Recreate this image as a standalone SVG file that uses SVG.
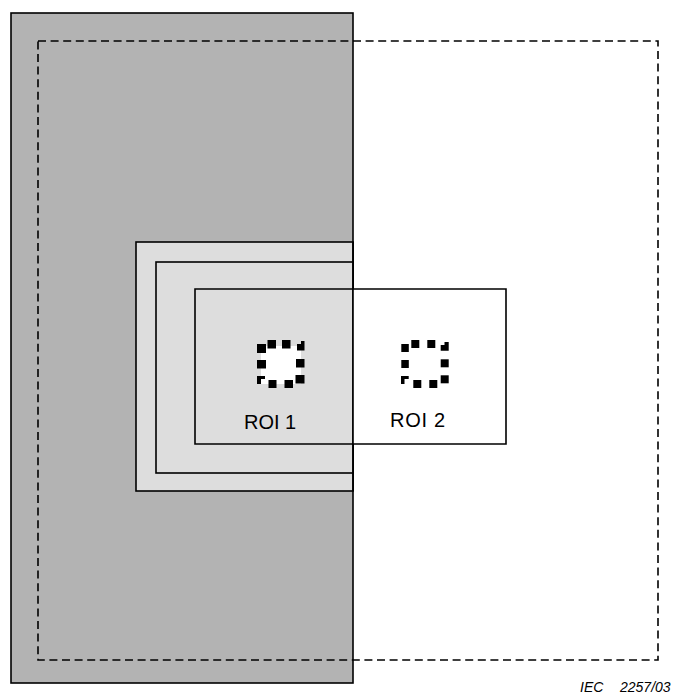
<svg xmlns="http://www.w3.org/2000/svg" width="679" height="697" viewBox="0 0 679 697">
<style>
.box{stroke:#000;stroke-width:1.6}
.dot{fill:#000}
.lbl{font-family:"Liberation Sans",Arial,sans-serif;font-size:20px;fill:#000}
.ref{font-family:"Liberation Sans",Arial,sans-serif;font-size:14px;font-style:italic;fill:#000}
</style>
<rect width="679" height="697" fill="#fff"/>
<g id="image">
<rect class="box" x="11" y="13" width="342" height="670" fill="#b3b3b3"/>
</g>
<g id="tile-region">
<rect class="box" x="136" y="242" width="217" height="249" fill="#dddddd"/>
</g>
<g id="precinct">
<rect class="box" x="156" y="262" width="197" height="211" fill="#dddddd"/>
</g>
<g id="roi-region">
<path class="box" d="M353,289 H506 V444 H353" fill="#fff"/>
<path class="box" d="M353,289 H195 V444 H353" fill="none"/>
<line class="box" x1="353" y1="242" x2="353" y2="491"/>
</g>
<g id="canvas">
<rect x="38" y="41" width="620" height="619" fill="none" stroke="#000" stroke-width="1.6" stroke-dasharray="8 4.6"/>
</g>
<g id="roi1">
<rect x="261" y="346" width="40" height="38" fill="#fff"/>
<rect class="dot" x="257" y="344" width="9" height="9"/>
<rect class="dot" x="267.5" y="340" width="8.5" height="8.5"/>
<rect class="dot" x="282" y="340" width="8.5" height="8.5"/>
<path class="dot" d="M297,344 H301 V341 H304.5 V350.5 H297 Z"/>
<rect class="dot" x="257" y="360" width="9" height="8.5"/>
<rect class="dot" x="296" y="359" width="8.5" height="8.5"/>
<path class="dot" d="M257,376 H265 V379 H261 V384 H257 Z"/>
<rect class="dot" x="268.5" y="380" width="8" height="8"/>
<rect class="dot" x="284.5" y="380" width="8.5" height="8"/>
<rect class="dot" x="295.5" y="375" width="9" height="8.5"/>
<text class="lbl" x="244" y="429">ROI 1</text>
</g>
<g id="roi2">
<rect class="dot" x="401.3" y="344" width="7.5" height="8"/>
<rect class="dot" x="411.3" y="340" width="8" height="8"/>
<rect class="dot" x="427.3" y="340" width="8" height="8"/>
<path class="dot" d="M440.7,345 H444.5 V342 H448.7 V350.7 H440.7 Z"/>
<rect class="dot" x="401.3" y="360" width="7.5" height="8"/>
<rect class="dot" x="440.7" y="359.3" width="8" height="8"/>
<path class="dot" d="M401,376 H408.7 V379 H404.5 V384 H401 Z"/>
<rect class="dot" x="413.3" y="380" width="8" height="8"/>
<rect class="dot" x="429.3" y="380" width="8" height="8"/>
<rect class="dot" x="440.7" y="375.3" width="8" height="8"/>
<text class="lbl" x="390" y="427" textLength="55">ROI 2</text>
</g>
<text class="ref" y="692"><tspan x="580">IEC</tspan><tspan x="620">2257/03</tspan></text>
</svg>
